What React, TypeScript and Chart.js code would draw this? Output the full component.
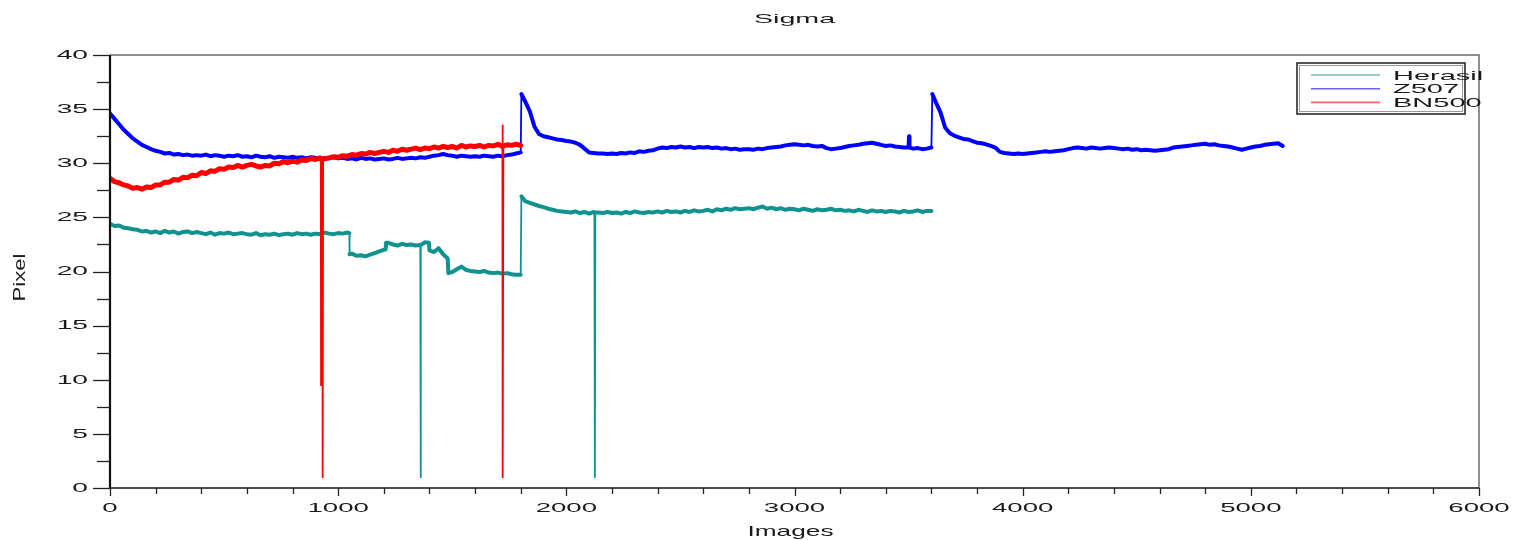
import { useEffect, useRef } from 'react';
import { Chart, registerables } from 'chart.js';

Chart.register(...registerables);

const chartTitle = 'Sigma';
const xAxisLabel = 'Images';
const yAxisLabel = 'Pixel';
const seriesNames = ['Herasil', 'Z507', 'BN500'];
const seriesColors = ['#10928e', '#0000ff', '#ff0000'];
const seriesWidths = [4, 4, 5];

// sampled every 20 images, starting at image 0
const sampleStep = 20;

const herasilValues = [
  24.4, 24.2, 24.25, 24.05, 24.0, 23.9, 23.85, 23.7, 23.75, 23.6,
  23.7, 23.55, 23.75, 23.6, 23.7, 23.5, 23.65, 23.7, 23.55, 23.65,
  23.55, 23.45, 23.6, 23.4, 23.55, 23.5, 23.6, 23.45, 23.5, 23.55,
  23.45, 23.4, 23.55, 23.35, 23.45, 23.4, 23.5, 23.35, 23.45, 23.5,
  23.4, 23.55, 23.45, 23.5, 23.4, 23.5, 23.45, 23.6, 23.5, 23.45,
  23.55, 23.5, 23.6, 21.65, 21.45, 21.5, 21.4, 21.55, 21.7, 21.85,
  22.0, 22.65, 22.5, 22.4, 22.55, 22.45, 22.5, 22.4, 22.45, 22.7,
  21.95, 21.8, 22.15, 21.6, 21.2, 19.95, 20.2, 20.45, 20.15, 20.05,
  20.0, 19.95, 20.05, 19.9, 19.85, 19.9, 19.8, 19.85, 19.75, 19.7,
  19.7, 26.5, 26.35, 26.2, 26.05, 25.95, 25.8, 25.7, 25.6, 25.55,
  25.5, 25.45, 25.55, 25.4, 25.5, 25.35, 25.5, 25.45, 25.4, 25.5,
  25.4, 25.45, 25.35, 25.5, 25.4, 25.55, 25.45, 25.4, 25.5, 25.45,
  25.55, 25.45, 25.6, 25.5, 25.55, 25.45, 25.6, 25.5, 25.65, 25.55,
  25.6, 25.7, 25.55, 25.75, 25.65, 25.8, 25.7, 25.85, 25.75, 25.8,
  25.85, 25.75, 25.9, 26.0, 25.8, 25.9, 25.75, 25.85, 25.7, 25.8,
  25.75, 25.65, 25.8, 25.7, 25.6, 25.75, 25.65, 25.7, 25.8, 25.65,
  25.7, 25.6, 25.65, 25.55, 25.7, 25.6, 25.5, 25.65, 25.55, 25.6,
  25.5, 25.6, 25.55, 25.45, 25.6, 25.5, 25.55, 25.65, 25.5, 25.6,
  25.6,
];

const z507Values = [
  34.6, 34.1, 33.6, 33.1, 32.7, 32.3, 32.0, 31.7, 31.5, 31.3,
  31.15, 31.05, 30.9, 30.95, 30.8, 30.85, 30.75, 30.8, 30.7, 30.75,
  30.7, 30.8, 30.65, 30.75, 30.7, 30.6, 30.7, 30.65, 30.75, 30.6,
  30.65, 30.55, 30.7, 30.6, 30.55, 30.65, 30.5, 30.6, 30.55, 30.5,
  30.6, 30.5, 30.55, 30.45, 30.55, 30.5, 30.4, 30.5, 30.45, 30.55,
  30.45, 30.5, 30.4, 30.45, 30.35, 30.5, 30.4, 30.45, 30.35, 30.4,
  30.45, 30.35, 30.4, 30.5, 30.4, 30.45, 30.5, 30.45, 30.55, 30.5,
  30.6, 30.7, 30.75, 30.85, 30.75, 30.7, 30.6, 30.7, 30.65, 30.6,
  30.65, 30.6, 30.7, 30.65, 30.6, 30.7, 30.65, 30.75, 30.8, 30.9,
  31.0, 35.7, 34.8, 33.4, 32.7, 32.5, 32.4, 32.3, 32.2, 32.15,
  32.05, 32.0, 31.9, 31.7, 31.35, 31.0, 30.95, 30.9, 30.9, 30.85,
  30.9, 30.85, 30.95, 30.9, 31.0, 30.95, 31.1, 31.05, 31.15, 31.2,
  31.35, 31.45, 31.4, 31.5, 31.45, 31.55, 31.45, 31.5, 31.4, 31.5,
  31.45, 31.5, 31.4, 31.45, 31.35, 31.4, 31.3, 31.35, 31.25, 31.3,
  31.3, 31.25, 31.35, 31.3, 31.4, 31.45, 31.5, 31.55, 31.65, 31.7,
  31.75, 31.7, 31.65, 31.7, 31.6, 31.55, 31.6, 31.4, 31.3, 31.35,
  31.4, 31.5, 31.6, 31.65, 31.7, 31.8, 31.85, 31.9, 31.8, 31.7,
  31.6, 31.65, 31.55, 31.5, 31.45, 31.45, 31.35, 31.4, 31.3, 31.35,
  31.45, 35.6, 34.7, 33.3, 32.8, 32.55, 32.4, 32.25, 32.2, 32.05,
  31.9, 31.85, 31.75, 31.6, 31.45, 31.05, 30.95, 30.9, 30.85, 30.9,
  30.85, 30.9, 30.95, 31.0, 31.05, 31.1, 31.05, 31.1, 31.15, 31.2,
  31.3, 31.4, 31.45, 31.4, 31.35, 31.45, 31.4, 31.35, 31.4, 31.45,
  31.4, 31.35, 31.3, 31.35, 31.25, 31.3, 31.2, 31.25, 31.2, 31.15,
  31.2, 31.25, 31.3, 31.45, 31.5, 31.55, 31.6, 31.65, 31.7, 31.75,
  31.8, 31.7, 31.75, 31.65, 31.6, 31.55, 31.45, 31.35, 31.25, 31.35,
  31.45, 31.55, 31.6, 31.7, 31.75, 31.8, 31.85, 31.6,
];

const bn500Values = [
  28.6, 28.3, 28.2, 28.0, 27.9, 27.7, 27.75, 27.6, 27.8, 27.75,
  28.0, 28.0, 28.25, 28.25, 28.5, 28.45, 28.7, 28.65, 28.9, 28.85,
  29.15, 29.05, 29.3, 29.25, 29.5, 29.45, 29.65, 29.6, 29.8, 29.65,
  29.8, 29.9, 29.75, 29.65, 29.8, 29.75, 30.0, 29.95, 30.15, 30.05,
  30.2, 30.1, 30.3, 30.25, 30.45, 30.35, 30.5, 30.4, 30.5, 30.6,
  30.55, 30.7, 30.65, 30.8, 30.75, 30.9, 30.85, 31.0, 30.9, 31.0,
  31.1, 31.0, 31.2, 31.1, 31.3, 31.2, 31.3, 31.4, 31.25, 31.4,
  31.35, 31.5, 31.4, 31.55, 31.45, 31.55, 31.4, 31.65, 31.5, 31.6,
  31.55, 31.65, 31.5, 31.65, 31.6, 31.75, 31.55, 31.7, 31.65, 31.75,
  31.65,
];

// extra readings between samples: steps, peaks and dropouts [image, value]
const herasilEvents = [
  [1049, 23.55], [1050, 21.6], [1208, 22.05], [1210, 22.65],
  [1359, 22.45], [1361, 1.0], [1363, 22.45], [1398, 22.65],
  [1483, 19.85], [1803, 26.95], [2123, 25.45], [2125, 1.0], [2127, 25.45],
];
const z507Events = [[1803, 36.4], [3502, 32.5], [3504, 31.45], [3604, 36.4]];
const bn500Events = [
  [924, 30.4], [925, 9.5], [927, 30.4], [931, 30.4], [932, 1.0], [934, 30.4],
  [1719, 31.6], [1720, 33.5], [1722, 1.0], [1724, 31.6],
];

const xMajorTicks = [0, 1000, 2000, 3000, 4000, 5000, 6000];
const yMajorTicks = [0, 5, 10, 15, 20, 25, 30, 35, 40];
const xMinorStep = 200;
const yMinorStep = 2.5;

function buildPoints(values: number[], events: number[][]) {
  const pts = values.map((y, i) => ({ x: i * sampleStep, y }));
  events.forEach(([x, y]) => pts.push({ x, y }));
  pts.sort((a, b) => a.x - b.x);
  return pts;
}

const FONT = '"Liberation Sans", Arial, Helvetica, sans-serif';

function stretchedText(
  ctx: CanvasRenderingContext2D,
  text: string,
  x: number,
  y: number,
  size: number,
  sx: number,
  align: CanvasTextAlign,
  baseline: CanvasTextBaseline,
  rotate = false,
  color = '#1a1a1a'
) {
  ctx.save();
  ctx.translate(x, y);
  if (rotate) ctx.rotate(-Math.PI / 2);
  ctx.scale(sx, 1);
  ctx.font = `${size}px ${FONT}`;
  ctx.textAlign = align;
  ctx.textBaseline = baseline;
  ctx.fillStyle = color;
  ctx.fillText(text, 0, 0);
  ctx.restore();
}

const decorPlugin = {
  id: 'decor',
  afterDatasetsDraw(chart: any) {
    const { ctx, chartArea: a, scales } = chart;
    const xs = scales.x;
    const ys = scales.y;
    ctx.save();
    ctx.strokeStyle = '#6a6a6a';
    ctx.lineWidth = 1.5;
    ctx.beginPath();
    ctx.moveTo(a.left, a.top);
    ctx.lineTo(a.right, a.top);
    ctx.lineTo(a.right, a.bottom);
    ctx.stroke();
    ctx.strokeStyle = '#111';
    ctx.lineWidth = 2.2;
    ctx.beginPath();
    ctx.moveTo(a.left, a.top);
    ctx.lineTo(a.left, a.bottom);
    ctx.stroke();
    ctx.lineWidth = 1.5;
    ctx.beginPath();
    ctx.moveTo(a.left, a.bottom);
    ctx.lineTo(a.right, a.bottom);
    ctx.stroke();

    ctx.lineWidth = 1.3;
    ctx.strokeStyle = '#222';
    for (let v = 0; v <= 40 + 1e-6; v += yMinorStep) {
      const py = Math.round(ys.getPixelForValue(v)) + 0.5;
      const major = yMajorTicks.includes(v);
      ctx.beginPath();
      ctx.moveTo(a.left - (major ? 17 : 13), py);
      ctx.lineTo(a.left, py);
      ctx.stroke();
    }
    for (let v = 0; v <= 6000; v += xMinorStep) {
      const px = Math.round(xs.getPixelForValue(v)) + 0.5;
      const major = xMajorTicks.includes(v);
      ctx.beginPath();
      ctx.moveTo(px, a.bottom);
      ctx.lineTo(px, a.bottom + (major ? 8 : 6));
      ctx.stroke();
    }
    ctx.restore();

    yMajorTicks.forEach((v) => {
      stretchedText(ctx, String(v), a.left - 22, ys.getPixelForValue(v) + 0.5, 12, 2.35, 'right', 'middle');
    });
    xMajorTicks.forEach((v) => {
      stretchedText(ctx, String(v), xs.getPixelForValue(v), a.bottom + 24, 12, 2.3, 'center', 'alphabetic');
    });

    const cx = (a.left + a.right) / 2;
    stretchedText(ctx, chartTitle, cx, 23, 13, 2.2, 'center', 'alphabetic');
    stretchedText(ctx, xAxisLabel, cx - 4, 536, 15, 1.75, 'center', 'alphabetic');
    stretchedText(ctx, yAxisLabel, 20, (a.top + a.bottom) / 2 + 6, 17, 1.3, 'center', 'middle', true);

    const lx = a.right - 182;
    const ly = a.top + 8;
    const lw = 168;
    const lh = 51;
    ctx.save();
    ctx.fillStyle = '#ffffff';
    ctx.fillRect(lx, ly, lw, lh);
    ctx.strokeStyle = '#9a9a9a';
    ctx.lineWidth = 1;
    ctx.strokeRect(lx + 2.5, ly + 2.5, lw - 5, lh - 5);
    ctx.strokeStyle = '#2a2a2a';
    ctx.lineWidth = 1.6;
    ctx.strokeRect(lx, ly, lw, lh);
    chart.data.datasets.forEach((ds: any, i: number) => {
      const rowY = ly + 12 + i * 13.7;
      ctx.strokeStyle = ds.borderColor;
      ctx.globalAlpha = 0.6;
      ctx.lineWidth = 1.6;
      ctx.beginPath();
      ctx.moveTo(lx + 14, rowY);
      ctx.lineTo(lx + 83, rowY);
      ctx.stroke();
      ctx.globalAlpha = 1;
      stretchedText(ctx, ds.label, lx + 96, rowY + 4.6, 13, 2.23, 'left', 'alphabetic');
    });
    ctx.restore();
  },
};

const segmentWidth = (base: number) => (c: any) =>
  Math.abs(c.p1.parsed.y - c.p0.parsed.y) > 1.5 ? 1.8 : base;

export default function App() {
  const ref = useRef<HTMLCanvasElement | null>(null);

  useEffect(() => {
    if (!ref.current) return;
    const series = [
      buildPoints(herasilValues, herasilEvents),
      buildPoints(z507Values, z507Events),
      buildPoints(bn500Values, bn500Events),
    ];
    const chart = new Chart(ref.current, {
      type: 'line',
      data: {
        datasets: series.map((pts, i) => ({
          label: seriesNames[i],
          data: pts,
          borderColor: seriesColors[i],
          backgroundColor: seriesColors[i],
          borderWidth: seriesWidths[i],
          borderJoinStyle: 'round',
          borderCapStyle: 'round',
          pointRadius: 0,
          tension: 0,
          fill: false,
          order: 3 - i,
          segment: { borderWidth: segmentWidth(seriesWidths[i]) },
        })),
      },
      options: {
        responsive: false,
        animation: false,
        events: [],
        layout: { padding: { left: 110, right: 37, top: 55, bottom: 52 } },
        plugins: {
          legend: { display: false },
          title: { display: false },
          tooltip: { enabled: false },
        },
        scales: {
          x: {
            type: 'linear',
            min: 0,
            max: 6000,
            ticks: { display: false, stepSize: 1000 },
            grid: { display: false, drawTicks: false },
            border: { display: false },
            afterFit: (s: any) => {
              s.height = 0;
            },
          },
          y: {
            type: 'linear',
            min: 0,
            max: 40,
            ticks: { display: false, stepSize: 5 },
            grid: { display: false, drawTicks: false },
            border: { display: false },
            afterFit: (s: any) => {
              s.width = 0;
            },
          },
        },
      },
      plugins: [decorPlugin],
    } as any);
    return () => chart.destroy();
  }, []);

  return (
    <div style={{ position: 'fixed', left: 0, top: 0, width: 1516, height: 540, background: '#fff' }}>
      <canvas ref={ref} width={1516} height={540} style={{ display: 'block' }} />
    </div>
  );
}
